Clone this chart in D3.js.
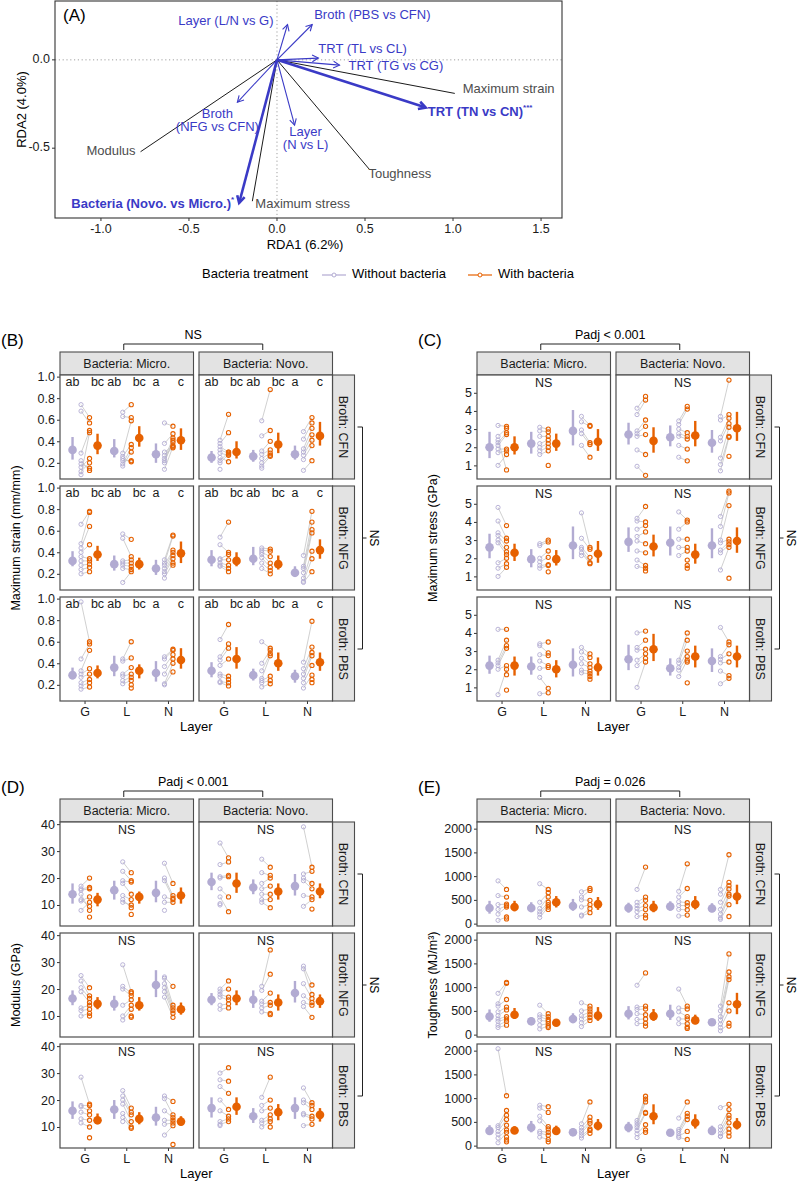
<!DOCTYPE html>
<html><head><meta charset="utf-8">
<script src="https://cdn.jsdelivr.net/npm/d3@7"></script>
<style>body{margin:0;background:#fff}svg{display:block}</style>
</head><body>
<script>
// ---------------- DATA ----------------
// Panel A: RDA biplot
const termLabels = ["Layer (L/N vs G)", "Broth (PBS vs CFN)", "TRT (TL vs CL)", "TRT (TG vs CG)", "TRT (TN vs CN)", "Broth|(NFG vs CFN)", "Layer|(N vs L)", "Bacteria (Novo. vs Micro.)"];
const termRDA1 = [0.06, 0.2, 0.235, 0.355, 0.845, -0.225, 0.1, -0.215];
const termRDA2 = [0.2, 0.2, 0.01, -0.03, -0.27, -0.24, -0.37, -0.81];
const termSignif = ["", "", "", "", "***", "", "", "*"];
const respLabels = ["Maximum strain", "Modulus", "Toughness", "Maximum stress"];
const respRDA1 = [1.01, -0.775, 0.525, -0.14];
const respRDA2 = [-0.19, -0.52, -0.62, -0.8];
const rdaXTicks = [-1.0, -0.5, 0.0, 0.5, 1.0, 1.5];
const rdaYTicks = [0.0, -0.5];

// Facet factors
const layers = ["G", "L", "N"];
const bacteria = ["Micro.", "Novo."];
const broths = ["CFN", "NFG", "PBS"];
const treatments = ["Without bacteria", "With bacteria"];
const strainLetters = ["ab", "bc", "ab", "bc", "a", "c"];

// summaries: [broth][bacteria][layer] = [meanWithout, loWithout, hiWithout, meanWith, loWith, hiWith]
const strainSummary = [
 [[[0.32,0.23,0.44,0.36,0.28,0.47],[0.31,0.25,0.42,0.43,0.35,0.54],[0.28,0.2,0.38,0.41,0.32,0.52]],
  [[0.25,0.2,0.31,0.3,0.24,0.4],[0.26,0.21,0.32,0.37,0.29,0.48],[0.28,0.23,0.36,0.45,0.36,0.58]]],
 [[[0.32,0.27,0.41,0.38,0.32,0.46],[0.29,0.23,0.37,0.29,0.24,0.35],[0.25,0.19,0.33,0.39,0.3,0.5]],
  [[0.33,0.27,0.42,0.32,0.27,0.4],[0.34,0.28,0.45,0.29,0.24,0.37],[0.21,0.17,0.27,0.42,0.34,0.52]]],
 [[[0.29,0.25,0.36,0.31,0.26,0.38],[0.36,0.28,0.47,0.33,0.26,0.39],[0.31,0.23,0.42,0.43,0.35,0.54]],
  [[0.33,0.27,0.41,0.44,0.35,0.55],[0.29,0.24,0.35,0.4,0.33,0.5],[0.28,0.22,0.34,0.41,0.33,0.5]]]
];
const strainWithout = [
 [[[0.74,0.68,0.29,0.09,0.16,0.19,0.22,0.12],[0.67,0.63,0.29,0.26,0.19,0.17,0.24,0.22],[0.57,0.38,0.24,0.22,0.14,0.27,0.3,0.2]],
  [[0.41,0.38,0.35,0.32,0.29,0.25,0.22,0.2,0.14],[0.59,0.45,0.31,0.28,0.24,0.2,0.17,0.15],[0.49,0.42,0.33,0.3,0.27,0.23,0.13]]],
 [[[0.66,0.48,0.44,0.4,0.36,0.32,0.28,0.24,0.2],[0.57,0.53,0.32,0.3,0.28,0.25,0.12],[0.33,0.3,0.28,0.25,0.22,0.2,0.16]],
  [[0.54,0.47,0.34,0.33,0.3,0.28,0.27],[0.44,0.42,0.4,0.38,0.35,0.3,0.25],[0.37,0.27,0.25,0.21,0.16,0.13,0.12]]],
 [[[0.97,0.44,0.33,0.3,0.27,0.22,0.19,0.16],[0.44,0.42,0.3,0.28,0.24,0.21],[0.46,0.44,0.37,0.3,0.21,0.2]],
  [[0.62,0.46,0.43,0.38,0.3,0.28,0.23,0.22],[0.6,0.4,0.33,0.26,0.24,0.22,0.18],[0.41,0.35,0.3,0.26,0.22,0.17]]]
];
const strainWith = [
 [[[0.62,0.57,0.5,0.48,0.24,0.15,0.13,0.2],[0.74,0.62,0.59,0.37,0.34,0.3,0.21,0.22],[0.54,0.47,0.43,0.39,0.35,0.34,0.36,0.41]],
  [[0.65,0.48,0.3,0.29,0.27,0.21,0.3,0.28],[0.88,0.5,0.4,0.32,0.29,0.27,0.26],[0.62,0.57,0.52,0.46,0.41,0.36,0.22]]],
 [[[0.78,0.77,0.64,0.47,0.34,0.32,0.29,0.26,0.22],[0.52,0.36,0.33,0.3,0.27,0.24,0.22],[0.56,0.55,0.42,0.4,0.37,0.34,0.3,0.28]],
  [[0.68,0.4,0.38,0.33,0.28,0.25,0.22],[0.43,0.41,0.36,0.3,0.26,0.23,0.2],[0.78,0.68,0.61,0.58,0.41,0.34,0.22]]],
 [[[0.6,0.58,0.52,0.35,0.3,0.25,0.22,0.18],[0.6,0.45,0.36,0.3,0.27,0.24,0.2,0.17],[0.53,0.52,0.48,0.44,0.4,0.32]],
  [[0.76,0.58,0.54,0.44,0.28,0.25,0.22,0.19],[0.54,0.52,0.49,0.47,0.28,0.24,0.21],[0.79,0.55,0.5,0.47,0.38,0.29,0.25,0.22]]]
];

const stressSummary = [
 [[[2.0,1.4,2.85,2.0,1.6,2.6],[2.2,1.65,2.85,2.2,1.8,2.75],[2.9,2.1,4.05,2.3,1.8,3.0]],
  [[2.7,2.15,3.35,2.35,1.7,3.1],[2.55,2.05,3.2,2.65,2.05,3.45],[2.25,1.7,2.95,3.05,2.35,3.95]]],
 [[[2.6,2.0,3.35,2.3,1.85,2.8],[1.95,1.5,2.5,1.95,1.6,2.45],[2.7,1.95,3.75,2.25,1.75,2.95]],
  [[2.9,2.35,3.7,2.65,2.1,3.3],[2.85,2.15,3.75,2.2,1.7,2.8],[2.7,2.0,3.65,2.95,2.3,3.7]]],
 [[[2.2,1.75,2.75,2.2,1.65,2.7],[2.15,1.7,2.7,2.0,1.55,2.5],[2.25,1.6,3.15,2.1,1.65,2.65]],
  [[2.55,1.95,3.35,3.1,2.45,3.95],[2.05,1.65,2.6,2.7,2.1,3.3],[2.45,1.85,3.15,2.7,2.1,3.3]]]
];
const stressWithout = [
 [[[3.2,2.6,2.25,2.1,1.9,1.7,1.0,2.4],[3.1,2.9,2.6,2.2,2.0,1.8,1.6],[3.7,3.4,2.95,2.75,2.1]],
  [[4.15,3.8,2.9,2.75,2.6,1.85,0.95],[3.45,3.25,3.0,2.75,2.6,2.1,1.45],[3.7,3.5,2.55,2.35,1.4,1.05,0.7]]],
 [[[4.8,4.05,3.4,3.25,3.0,2.85,1.75,1.45,1.0],[2.8,2.7,2.0,1.8,1.6,1.45],[4.5,3.1,2.6,2.5,2.3,2.15]],
  [[4.2,4.05,3.6,3.2,2.95,2.4,1.9,1.55],[4.55,3.6,3.05,2.6,2.15],[4.3,3.75,3.0,2.85,2.45,2.3,1.35]]],
 [[[4.2,2.5,2.35,2.2,2.0,0.6],[3.4,3.3,2.8,2.45,2.05,1.55,0.65],[3.2,2.95,2.6,2.3,1.95,1.8]],
  [[4.0,3.2,3.05,2.5,2.2,1.0],[2.5,2.35,2.1,1.95,1.6],[4.3,2.7,2.55,2.35,1.9,1.2]]]
];
const stressWith = [
 [[[3.15,3.05,2.8,2.7,1.9,1.8,1.6,0.75],[3.0,2.85,2.6,2.4,2.2,2.0,1.8,1.0],[3.2,3.15,2.25,2.15,1.45]],
  [[4.8,4.6,3.5,3.15,2.7,1.6,0.45],[4.25,4.1,2.8,2.6,2.45,1.9,1.25],[5.7,3.8,3.6,3.3,3.1,2.6,2.55,1.5]]],
 [[[3.8,3.1,2.95,2.6,2.35,2.2,2.0,1.7,1.5],[3.0,2.9,2.4,2.05,1.65,1.6,1.25],[2.6,2.5,2.05,1.75,1.7]],
  [[4.85,4.0,3.8,3.45,2.8,2.3,1.6,1.45,1.3],[4.1,4.0,3.05,2.6,2.4,1.9,1.6,1.45],[5.7,5.6,4.9,3.05,2.9,2.75,2.6,0.9]]],
 [[[4.2,3.6,3.3,3.15,2.2,2.0,1.7,0.85],[3.5,2.9,2.75,2.2,2.1,0.95,0.7],[2.85,2.65,2.3,2.1,1.9,1.75,1.6,1.45]],
  [[4.1,3.6,3.1,2.85,2.6,2.4],[4.0,3.6,3.0,2.7,2.5,2.4,1.25],[3.5,3.35,2.85,2.4,1.65,1.5]]]
];

const modulusSummary = [
 [[[14,10.5,18,12,9.5,14.5],[15.5,12,19,13,10.5,15],[14.5,11,19,13.5,10.5,16.5]],
  [[18.5,15.5,22,18,14.5,22],[16.5,14,19.5,15,12,18],[17,13.5,21.5,15,12.5,18]]],
 [[[16.5,14,19.5,14.5,12.5,17],[14.5,12,17.5,14,12,17],[21.5,17,27,12.5,10.5,15]],
  [[16,14,18.5,16.5,14,19.5],[16,13,19.5,15,12,18],[18.5,15,23,15.5,13,18]]],
 [[[16,13,19.5,12.5,11,15],[16.5,13,20,13,11,15.5],[13.5,10.5,17.5,12,10.5,14]],
  [[17,13.5,21,17.5,14.5,21],[14,11.5,17,15.5,12.5,18.5],[17,13,21,14.5,12,17]]]
];
const modulusWithout = [
 [[[17,16,15.5,11.5,8,12,14],[26,22.5,19,18,13.5,11,12],[25.5,20,19,13,11,8]],
  [[33,25,20.5,20,16,13,10,10.5],[27,22,18,16,14,12,11],[39,21.5,20,19,13.5,9.5]]],
 [[[25,23,20.5,19,13,12,10],[29,21,20,14,10,8.5],[24.5,24,22,20.5,19,17]],
  [[20,19,18,17,14,12.5],[21,19.5,15.5,14.5,13,11.5],[28.5,27.5,22,17.5,15,13.5]]],
 [[[28.5,18,17.5,15.5,13,11.5],[23.5,21.5,20,18.5,15,13.5,12],[21.5,20.5,16,12.5,11,7]],
  [[30,27.5,25,20,16,12,11,10.5],[21,18,16,12.5,11.5,10],[24.5,20,19,15,14.5,10.5]]]
];
const modulusWith = [
 [[[20,16.5,16,13,11,9.5,8,5.5],[22,19,18.5,14,12,10,9,6.5],[18,13.5,12.5,12,11]],
  [[27.5,26,21,20.5,13,7.5],[24,21,20,17,14,12,9],[24,22.5,18,16,13,12,8.5]]],
 [[[20.5,17.5,16.5,15,14,12.5,11,10],[19,18.5,17.5,16,14,12.5,10,9.5],[21,14,13,12,11,9.5]],
  [[23,20,17,16,14.5,13],[34.5,25.5,18.5,15,14,11,10.5],[21.5,18,16.5,15,14,9.5]]],
 [[[18.5,18,16,14.5,12.5,10,6],[17,15.5,14.5,12,10,9.5],[19.5,14.5,13.5,12.5,11.5,10.5,3.5]],
  [[32,27,22.5,16.5,14,13,12],[28.5,20,17,14.5,13,12,10],[19,18,16.5,14,13,11]]]
];

const toughSummary = [
 [[[330,210,480,350,260,480],[330,240,450,450,340,580],[370,270,520,410,290,560]],
  [[330,230,440,340,240,480],[360,270,470,410,300,580],[320,240,430,570,410,820]]],
 [[[380,270,530,420,330,560],[280,210,370,250,200,320],[330,240,450,400,290,580]],
  [[440,320,600,390,290,540],[440,310,630,300,220,420],[260,200,330,640,430,880]]],
 [[[310,230,430,320,260,410],[380,280,520,310,230,420],[280,210,370,420,320,560]],
  [[380,280,500,620,450,870],[270,210,340,480,360,660],[310,230,420,440,340,580]]]
];
const toughWithout = [
 [[[900,590,400,300,200,70],[840,450,320,250,200,130],[670,560,500,350,180,160]],
  [[720,450,380,320,250,150],[680,560,460,380,300,160],[720,620,450,300,200,120,90]]],
 [[[870,650,600,480,400,330,280,200,150],[620,420,370,300,200,120],[670,500,400,330,250,170]],
  [[1040,580,530,440,320,230],[960,560,480,330,230],[600,500,380,310,220,150,80]]],
 [[[2040,420,380,300,240,160,60],[850,790,620,520,300,260,180],[460,380,320,270,210,160]],
  [[530,480,430,380,320,250,170],[580,340,300,250,200,170],[800,400,330,260,200,190]]]
];
const toughWith = [
 [[[720,560,410,380,350,140,100],[720,650,560,450,400,350,300],[740,700,490,400,320,230]],
  [[1190,560,490,380,300,180,120],[1260,740,440,380,290,180],[1450,870,800,730,620,580,400,150]]],
 [[[1100,1080,740,580,520,380,330,280,200],[440,380,320,280,230,180,150],[600,540,480,420,360,300]],
  [[1300,600,540,420,330,240,180],[600,540,380,330,230,160,130],[1700,1320,1220,1160,670,500,240,180]]],
 [[[1050,740,640,550,430,330,280,180,120,80],[820,700,400,350,280,220,130,80],[920,600,520,470,350,320,260]],
  [[1040,980,920,700,680,440,330,280],[920,680,620,550,300,130],[870,760,640,580,480,350,270,200]]]
];

// ---------------- DRAWING ----------------
const FONT = "'Liberation Sans', Arial, Helvetica, sans-serif";
const COL_W = "#b2abd2", COL_T = "#e66101", BLUE = "#3a3ac6";
const W = 797, H = 1181;
const svg = d3.select("body").append("svg").attr("width", W).attr("height", H)
  .attr("font-family", FONT).style("background", "#fff");
svg.append("rect").attr("width", W).attr("height", H).attr("fill", "#fff");

// ---- Panel A ----
(function () {
  const g = svg.append("g");
  const L = 55, R = 562, T = 1, B = 218;
  const x = d3.scaleLinear().domain([-1.261, 1.619]).range([L, R]);
  const y = d3.scaleLinear().domain([0.333, -0.895]).range([T, B]);
  g.append("line").attr("x1", x(0)).attr("x2", x(0)).attr("y1", T).attr("y2", B)
    .attr("stroke", "#a0a0a0").attr("stroke-dasharray", "1.2,2.6").attr("stroke-width", 1);
  g.append("line").attr("x1", L).attr("x2", R).attr("y1", y(0)).attr("y2", y(0))
    .attr("stroke", "#a0a0a0").attr("stroke-dasharray", "1.2,2.6").attr("stroke-width", 1);

  const respPos = [{dx: 8, dy: -4, a: "start"}, {dx: -5, dy: 0, a: "end"}, {dx: -1, dy: 5, a: "start"}, {dx: 3, dy: 3, a: "start"}];
  respLabels.forEach((lab, i) => {
    g.append("line").attr("x1", x(0)).attr("y1", y(0)).attr("x2", x(respRDA1[i])).attr("y2", y(respRDA2[i]))
      .attr("stroke", "#000").attr("stroke-width", 0.9);
    g.append("text").attr("x", x(respRDA1[i]) + respPos[i].dx).attr("y", y(respRDA2[i]) + respPos[i].dy)
      .attr("dominant-baseline", "middle").attr("text-anchor", respPos[i].a)
      .attr("font-size", 13).attr("fill", "#4d4d4d").text(lab);
  });

  function head(x0, y0, x1, y1, len) {
    const a = Math.atan2(y1 - y0, x1 - x0), s = 0.5;
    return `M${x1 - len * Math.cos(a - s)},${y1 - len * Math.sin(a - s)}L${x1},${y1}L${x1 - len * Math.cos(a + s)},${y1 - len * Math.sin(a + s)}`;
  }
  const termPos = [{dx: -14, dy: -3, a: "end"}, {dx: 2, dy: -9, a: "start"}, {dx: 0, dy: -8, a: "start"}, {dx: 9, dy: 2, a: "start"},
    {dx: 2, dy: 5, a: "start"}, {dx: -20, dy: 13, a: "middle"}, {dx: 11, dy: 8, a: "middle"}, {dx: -5, dy: 2, a: "end"}];
  termLabels.forEach((lab, i) => {
    const bold = termSignif[i] !== "";
    const x1 = x(termRDA1[i]), y1 = y(termRDA2[i]);
    const sw = bold ? 2.6 : 1.1;
    g.append("line").attr("x1", x(0)).attr("y1", y(0)).attr("x2", x1).attr("y2", y1)
      .attr("stroke", BLUE).attr("stroke-width", sw);
    g.append("path").attr("d", head(x(0), y(0), x1, y1, bold ? 8 : 7)).attr("fill", "none")
      .attr("stroke", BLUE).attr("stroke-width", sw);
    const parts = lab.split("|");
    parts.forEach((p, k) => {
      const t = g.append("text").attr("x", x1 + termPos[i].dx).attr("y", y1 + termPos[i].dy + k * 13)
        .attr("dominant-baseline", "middle").attr("text-anchor", termPos[i].a)
        .attr("font-size", 13).attr("fill", BLUE).attr("font-weight", bold ? "bold" : "normal");
      t.append("tspan").text(p);
      if (bold && k === parts.length - 1) {
        t.append("tspan").attr("font-size", 8).attr("dy", -5).text(termSignif[i]);
      }
    });
  });

  g.append("rect").attr("x", L).attr("y", T).attr("width", R - L).attr("height", B - T)
    .attr("fill", "none").attr("stroke", "#333").attr("stroke-width", 1.1);
  rdaXTicks.forEach(v => {
    g.append("line").attr("x1", x(v)).attr("x2", x(v)).attr("y1", B).attr("y2", B + 3).attr("stroke", "#333");
    g.append("text").attr("x", x(v)).attr("y", B + 15).attr("text-anchor", "middle").attr("font-size", 12.5)
      .attr("fill", "#1a1a1a").text(v.toFixed(1));
  });
  rdaYTicks.forEach(v => {
    g.append("line").attr("x1", L - 3).attr("x2", L).attr("y1", y(v)).attr("y2", y(v)).attr("stroke", "#333");
    g.append("text").attr("x", L - 5).attr("y", y(v)).attr("dominant-baseline", "middle").attr("text-anchor", "end")
      .attr("font-size", 12.5).attr("fill", "#1a1a1a").text(v.toFixed(1));
  });
  g.append("text").attr("x", 305).attr("y", 249).attr("text-anchor", "middle").attr("font-size", 13).text("RDA1 (6.2%)");
  g.append("text").attr("transform", `translate(26,${(T + B) / 2}) rotate(-90)`).attr("text-anchor", "middle")
    .attr("font-size", 13).text("RDA2 (4.0%)");
  g.append("text").attr("x", 63).attr("y", 21).attr("font-size", 17).text("(A)");
})();

// ---- Legend ----
(function () {
  const g = svg.append("g");
  const y = 275;
  g.append("text").attr("x", 202).attr("y", y).attr("dominant-baseline", "middle").attr("font-size", 13).text("Bacteria treatment");
  const keys = [{x: 322, c: COL_W, t: treatments[0]}, {x: 468, c: COL_T, t: treatments[1]}];
  keys.forEach(k => {
    g.append("line").attr("x1", k.x).attr("x2", k.x + 24).attr("y1", y).attr("y2", y).attr("stroke", k.c).attr("stroke-width", 1.2);
    g.append("circle").attr("cx", k.x + 12).attr("cy", y).attr("r", 2).attr("fill", "#fff").attr("stroke", k.c).attr("stroke-width", 1);
    g.append("text").attr("x", k.x + 30).attr("y", y).attr("dominant-baseline", "middle").attr("font-size", 13).text(k.t);
  });
})();

// ---- Facet figures ----
function drawFacet(o) {
  const g = svg.append("g").attr("transform", `translate(${o.ox},${o.oy})`);
  const colL = [60, 199], colW = 133.5, rowT = [375, 486, 597], rowH = 104, stripT = 352, stripH = 23, bsW = 22;
  g.append("text").attr("x", 1).attr("y", 346).attr("font-size", 17).text(o.label);
  const c1 = colL[0] + colW / 2 - 3, c2 = colL[1] + colW / 2 - 3;
  g.append("path").attr("d", `M${c1},350V344H${c2}V350`).attr("fill", "none").attr("stroke", "#222").attr("stroke-width", 1);
  g.append("text").attr("x", (c1 + c2) / 2).attr("y", 339).attr("text-anchor", "middle").attr("font-size", 12.5).text(o.title);
  bacteria.forEach((b, j) => {
    g.append("rect").attr("x", colL[j]).attr("y", stripT).attr("width", colW).attr("height", stripH)
      .attr("fill", "#e3e3e3").attr("stroke", "#4d4d4d").attr("stroke-width", 1.1);
    g.append("text").attr("x", colL[j] + colW / 2).attr("y", stripT + stripH / 2 + 1).attr("dominant-baseline", "middle")
      .attr("text-anchor", "middle").attr("font-size", 12.5).attr("fill", "#1a1a1a").text("Bacteria: " + b);
  });
  broths.forEach((br, i) => {
    const top = rowT[i], bot = rowT[i] + rowH;
    const y = d3.scaleLinear().domain(o.yDomain).range([bot, top]);
    const ax = g.append("g").attr("transform", `translate(${colL[0]},0)`)
      .call(d3.axisLeft(y).tickValues(o.yTicks).tickSize(3).tickPadding(2).tickFormat(o.fmt));
    ax.select(".domain").remove();
    ax.attr("font-family", FONT).attr("font-size", 12.5);
    ax.selectAll("text").attr("fill", "#1a1a1a");
    ax.selectAll("line").attr("stroke", "#333");
    // broth strip
    const sx = colL[1] + colW;
    g.append("rect").attr("x", sx).attr("y", top).attr("width", bsW).attr("height", rowH)
      .attr("fill", "#e3e3e3").attr("stroke", "#4d4d4d").attr("stroke-width", 1.1);
    g.append("text").attr("transform", `translate(${sx + bsW / 2 - 1},${top + rowH / 2}) rotate(90)`)
      .attr("dominant-baseline", "middle").attr("text-anchor", "middle").attr("font-size", 12.5).attr("fill", "#1a1a1a")
      .text("Broth: " + br);
    bacteria.forEach((b, j) => {
      const x = d3.scalePoint().domain(layers).range([colL[j], colL[j] + colW]).padding(0.6);
      g.append("rect").attr("x", colL[j]).attr("y", top).attr("width", colW).attr("height", rowH).attr("fill", "#fff");
      layers.forEach((l, k) => {
        const s = o.summary[i][j][k], Wv = o.without[i][j][k], Tv = o.withB[i][j][k];
        const cx = x(l);
        const n = Math.min(Wv.length, Tv.length);
        for (let m = 0; m < n; m++) {
          g.append("line").attr("x1", cx - 4).attr("y1", y(Wv[m])).attr("x2", cx + 4.5).attr("y2", y(Tv[m]))
            .attr("stroke", "#c4c4c4").attr("stroke-width", 0.8);
        }
        Wv.forEach(v => g.append("circle").attr("cx", cx - 4).attr("cy", y(v)).attr("r", 2.1)
          .attr("fill", "none").attr("stroke", COL_W).attr("stroke-width", 0.9));
        Tv.forEach(v => g.append("circle").attr("cx", cx + 4.5).attr("cy", y(v)).attr("r", 2.1)
          .attr("fill", "none").attr("stroke", COL_T).attr("stroke-width", 1.1));
        [[cx - 12.5, 0, COL_W], [cx + 12.5, 3, COL_T]].forEach(([px, off, c]) => {
          g.append("line").attr("x1", px).attr("x2", px).attr("y1", y(s[off + 1])).attr("y2", y(s[off + 2]))
            .attr("stroke", c).attr("stroke-width", 2.4);
          g.append("circle").attr("cx", px).attr("cy", y(s[off])).attr("r", 4.3).attr("fill", c);
        });
        if (o.letters) {
          [[cx - 12.5, o.letters[2 * k]], [cx + 12.5, o.letters[2 * k + 1]]].forEach(([px, t]) => {
            g.append("text").attr("x", px).attr("y", top + 8).attr("dominant-baseline", "middle").attr("text-anchor", "middle")
              .attr("font-size", 12.5).attr("fill", "#1a1a1a").text(t);
          });
        }
        if (i === 2) {
          g.append("line").attr("x1", cx).attr("x2", cx).attr("y1", bot).attr("y2", bot + 3).attr("stroke", "#333");
          g.append("text").attr("x", cx).attr("y", bot + 15).attr("text-anchor", "middle").attr("font-size", 12.5)
            .attr("fill", "#1a1a1a").text(l);
        }
      });
      if (!o.letters) {
        g.append("text").attr("x", colL[j] + colW / 2).attr("y", top + 9).attr("dominant-baseline", "middle")
          .attr("text-anchor", "middle").attr("font-size", 12.5).attr("fill", "#1a1a1a").text("NS");
      }
      g.append("rect").attr("x", colL[j]).attr("y", top).attr("width", colW).attr("height", rowH)
        .attr("fill", "none").attr("stroke", "#4d4d4d").attr("stroke-width", 1.2);
    });
  });
  // right bracket
  const bx = colL[1] + colW + bsW + 8;
  const y1 = rowT[0] + rowH / 2, y3 = rowT[2] + rowH / 2, y2 = rowT[1] + rowH / 2;
  g.append("path").attr("d", `M${bx - 5},${y1}H${bx}V${y3}H${bx - 5}M${bx},${y2}H${bx + 4}`)
    .attr("fill", "none").attr("stroke", "#222").attr("stroke-width", 1);
  g.append("text").attr("transform", `translate(${bx + 10.5},${y2}) rotate(90)`).attr("text-anchor", "middle")
    .attr("dominant-baseline", "middle").attr("font-size", 12).text("NS");
  // axis titles
  g.append("text").attr("transform", `translate(17,${y2}) rotate(-90)`).attr("text-anchor", "middle")
    .attr("dominant-baseline", "middle").attr("font-size", 12.5).text(o.yTitle);
  g.append("text").attr("x", (colL[0] + colL[1] + colW) / 2).attr("y", 731).attr("text-anchor", "middle")
    .attr("font-size", 13).text("Layer");
}

drawFacet({ox: 0, oy: 0, label: "(B)", title: "NS", yTitle: "Maximum strain (mm/mm)",
  yDomain: [0.05, 1.015], yTicks: [0.2, 0.4, 0.6, 0.8, 1.0], fmt: d3.format(".1f"),
  summary: strainSummary, without: strainWithout, withB: strainWith, letters: strainLetters});
drawFacet({ox: 417, oy: 0, label: "(C)", title: "Padj < 0.001", yTitle: "Maximum stress (GPa)",
  yDomain: [0.25, 5.98], yTicks: [1, 2, 3, 4, 5], fmt: d3.format("d"),
  summary: stressSummary, without: stressWithout, withB: stressWith, letters: null});
drawFacet({ox: 0, oy: 447, label: "(D)", title: "Padj < 0.001", yTitle: "Modulus (GPa)",
  yDomain: [2.2, 40.8], yTicks: [10, 20, 30, 40], fmt: d3.format("d"),
  summary: modulusSummary, without: modulusWithout, withB: modulusWith, letters: null});
drawFacet({ox: 417, oy: 447, label: "(E)", title: "Padj = 0.026", yTitle: "Toughness (MJ/m³)",
  yDomain: [-50, 2140], yTicks: [0, 500, 1000, 1500, 2000], fmt: d3.format("d"),
  summary: toughSummary, without: toughWithout, withB: toughWith, letters: null});
</script>
</body></html>
